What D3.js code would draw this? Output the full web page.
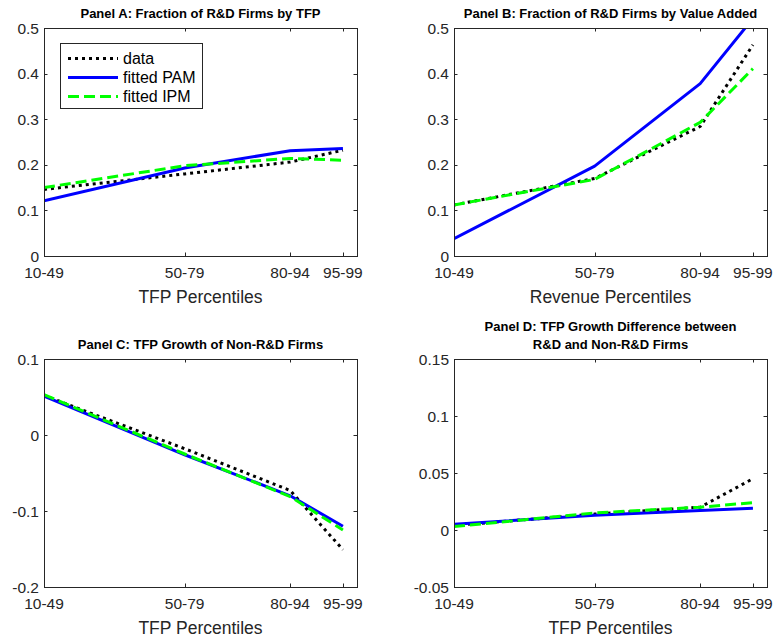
<!DOCTYPE html>
<html>
<head>
<meta charset="utf-8">
<title>R&amp;D panels</title>
<script src="https://d3js.org/d3.v7.min.js"></script>
<style>
  body { margin: 0; background: #fff; }
  svg { display: block; font-family: "Liberation Sans", Arial, Helvetica, sans-serif; }
  .tick-label { font-size: 15.5px; fill: #262626; }
  .axis-label { font-size: 17.5px; fill: #262626; }
  .panel-title { font-size: 13px; font-weight: bold; fill: #000; }
  .legend text { font-size: 16px; fill: #000; }
</style>
</head>
<body>
<script>
// x positions are the lower bound of each percentile bin
var categories = ["10-49", "50-79", "80-94", "95-99"];
var catPos = [10, 50, 80, 95];

var seriesNames = ["data", "fitted PAM", "fitted IPM"];

// Panel A: fraction of R&D firms by TFP
var aData = [0.146, 0.180, 0.206, 0.232];
var aPAM  = [0.121, 0.193, 0.231, 0.236];
var aIPM  = [0.150, 0.198, 0.214, 0.210];

// Panel B: fraction of R&D firms by value added
var bData = [0.112, 0.170, 0.284, 0.463];
var bPAM  = [0.038, 0.197, 0.378, 0.521];
var bIPM  = [0.112, 0.168, 0.293, 0.411];

// Panel C: TFP growth of non-R&D firms
var cData = [0.052, -0.018, -0.073, -0.151];
var cPAM  = [0.051, -0.026, -0.080, -0.120];
var cIPM  = [0.053, -0.025, -0.081, -0.125];

// Panel D: TFP growth difference between R&D and non-R&D firms
var dData = [0.004, 0.014, 0.020, 0.045];
var dPAM  = [0.005, 0.013, 0.017, 0.019];
var dIPM  = [0.003, 0.015, 0.020, 0.024];

var yTicksAB = ["0", "0.1", "0.2", "0.3", "0.4", "0.5"];
var yTicksC  = ["-0.2", "-0.1", "0", "0.1"];
var yTicksD  = ["-0.05", "0", "0.05", "0.1", "0.15"];

var W = 777, H = 643;
var axisColor = "#262626";

var styles = [
  {color: "#000000", dash: "3,4"},
  {color: "#0000ff", dash: null},
  {color: "#00ff00", dash: "11,5"}
];

var panels = [
  {title: ["Panel A: Fraction of R&D Firms by TFP"], xlabel: "TFP Percentiles",
   left: 44, top: 28, width: 313, height: 228, ydom: [0, 0.5], yticks: yTicksAB,
   series: [aData, aPAM, aIPM], legend: true},
  {title: ["Panel B: Fraction of R&D Firms by Value Added"], xlabel: "Revenue Percentiles",
   left: 454, top: 28, width: 313, height: 228, ydom: [0, 0.5], yticks: yTicksAB,
   series: [bData, bPAM, bIPM]},
  {title: ["Panel C: TFP Growth of Non-R&D Firms"], xlabel: "TFP Percentiles",
   left: 44, top: 359, width: 313, height: 228, ydom: [-0.2, 0.1], yticks: yTicksC,
   series: [cData, cPAM, cIPM]},
  {title: ["Panel D: TFP Growth Difference between", "R&D and Non-R&D Firms"], xlabel: "TFP Percentiles",
   left: 454, top: 359, width: 313, height: 228, ydom: [-0.05, 0.15], yticks: yTicksD,
   series: [dData, dPAM, dIPM]}
];

var svg = d3.select("body").append("svg")
    .attr("width", W)
    .attr("height", H);

panels.forEach(function(p, pi) {
  var x = d3.scaleLinear().domain([10, 99]).range([0, p.width]);
  var y = d3.scaleLinear().domain(p.ydom).range([p.height, 0]);

  var g = svg.append("g")
      .attr("transform", "translate(" + p.left + "," + p.top + ")");

  // clip so lines stay inside the axes like matlab
  svg.append("clipPath").attr("id", "clip" + pi)
    .append("rect").attr("width", p.width).attr("height", p.height);

  var line = d3.line()
      .x(function(d, i) { return x(catPos[i]); })
      .y(function(d) { return y(d); });

  var plot = g.append("g").attr("clip-path", "url(#clip" + pi + ")");
  p.series.forEach(function(s, si) {
    plot.append("path")
      .datum(s)
      .attr("d", line)
      .attr("fill", "none")
      .attr("stroke", styles[si].color)
      .attr("stroke-width", 3)
      .attr("stroke-dasharray", styles[si].dash)
      .attr("stroke-linejoin", "round");
  });

  // box
  g.append("rect")
    .attr("x", 0.5).attr("y", 0.5)
    .attr("width", p.width).attr("height", p.height)
    .attr("fill", "none")
    .attr("stroke", axisColor)
    .attr("stroke-width", 1);

  var tl = 3.5;
  // x ticks, inward on bottom and top
  catPos.forEach(function(c, i) {
    var xx = Math.round(x(c)) + 0.5;
    g.append("line").attr("x1", xx).attr("x2", xx)
      .attr("y1", p.height).attr("y2", p.height - tl)
      .attr("stroke", axisColor);
    g.append("line").attr("x1", xx).attr("x2", xx)
      .attr("y1", 0.5).attr("y2", tl)
      .attr("stroke", axisColor);
    g.append("text").attr("class", "tick-label")
      .attr("x", x(c)).attr("y", p.height + 22)
      .attr("text-anchor", "middle")
      .text(categories[i]);
  });

  // y ticks
  p.yticks.forEach(function(t) {
    var yy = Math.round(y(+t)) + 0.5;
    g.append("line").attr("x1", 0.5).attr("x2", tl)
      .attr("y1", yy).attr("y2", yy).attr("stroke", axisColor);
    g.append("line").attr("x1", p.width).attr("x2", p.width - tl)
      .attr("y1", yy).attr("y2", yy).attr("stroke", axisColor);
    g.append("text").attr("class", "tick-label")
      .attr("x", -5).attr("y", y(+t) + 5.5)
      .attr("text-anchor", "end")
      .text(t);
  });

  // x label
  g.append("text").attr("class", "axis-label")
    .attr("x", p.width / 2).attr("y", p.height + 47)
    .attr("text-anchor", "middle")
    .text(p.xlabel);

  // title
  var nT = p.title.length;
  p.title.forEach(function(t, i) {
    g.append("text").attr("class", "panel-title")
      .attr("x", p.width / 2)
      .attr("y", -10 - (nT - 1 - i) * 18.5)
      .attr("text-anchor", "middle")
      .text(t);
  });

  if (p.legend) {
    var lg = g.append("g").attr("class", "legend")
        .attr("transform", "translate(16,15)");
    lg.append("rect")
      .attr("x", 0.5).attr("y", 0.5)
      .attr("width", 142).attr("height", 65)
      .attr("fill", "#fff")
      .attr("stroke", axisColor);
    seriesNames.forEach(function(n, si) {
      var ly = 15.5 + si * 19;
      lg.append("line")
        .attr("x1", 8).attr("x2", 58)
        .attr("y1", ly).attr("y2", ly)
        .attr("stroke", styles[si].color)
        .attr("stroke-width", 3)
        .attr("stroke-dasharray", styles[si].dash);
      lg.append("text")
        .attr("x", 63).attr("y", ly + 5.5)
        .text(n);
    });
  }
});
</script>
</body>
</html>
